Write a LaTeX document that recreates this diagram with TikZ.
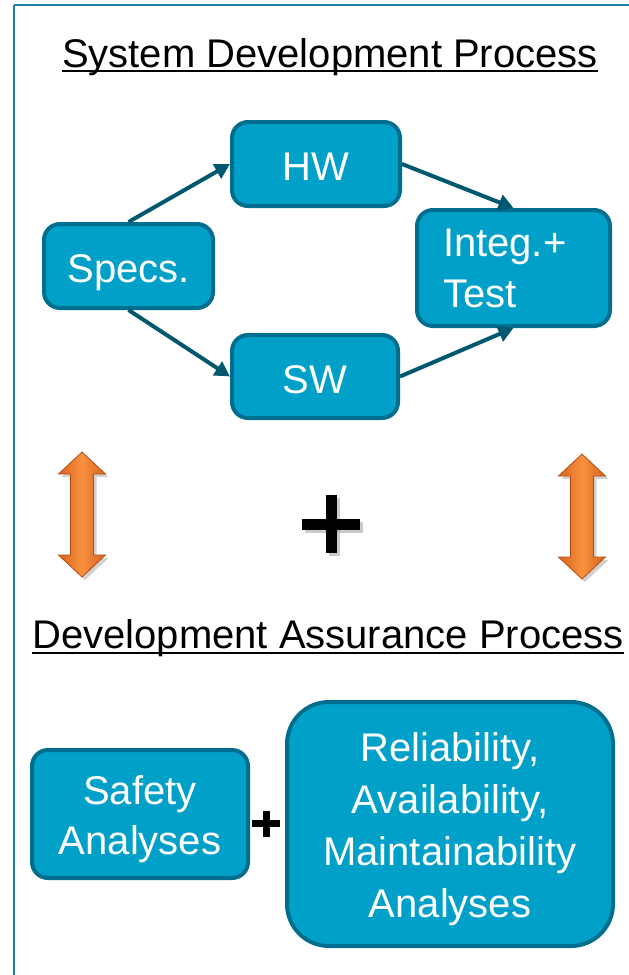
\documentclass[tikz,border=0pt]{standalone}
\usepackage{fontspec}
\setmainfont{Liberation Sans}
\usetikzlibrary{arrows.meta}
\definecolor{boxfill}{HTML}{00A0C8}
\definecolor{boxline}{HTML}{006E8E}
\definecolor{arrowc}{HTML}{00586F}
\definecolor{framec}{HTML}{1E80A8}
\definecolor{orangeL}{HTML}{F8913F}
\definecolor{orangeD}{HTML}{D8631E}
\definecolor{orangeE}{HTML}{B04E16}
\tikzset{
  box/.style={draw=boxline, fill=boxfill, line width=4pt, rounded corners=16pt,
    text=white, font=\fontsize{40}{50}\selectfont, align=center, inner sep=0pt},
  oneline/.style={text height=33pt, text depth=0pt},
  titletext/.style={font=\fontsize{40}{48}\selectfont, inner sep=0pt, anchor=base},
  uline/.style={line width=2pt, black},
  conn/.style={draw=arrowc, line width=4pt, -{Triangle[length=15pt,width=16pt]}},
  plusbar/.style={line width=#1, black},
  dblarrow/.pic={
    \fill[black, opacity=0.18] (3,-60) -- (26.5,-38) -- (14.5,-38) -- (14.5,43) -- (26.5,43) -- (3,65) -- (-20.5,43) -- (-8.5,43) -- (-8.5,-38) -- (-20.5,-38) -- cycle;
    \shade[left color=orangeD, right color=orangeD, middle color=orangeL, draw=orangeE, line width=0.8pt]
      (0,-63) -- (23.5,-41) -- (11.5,-41) -- (11.5,40) -- (23.5,40) -- (0,62) -- (-23.5,40) -- (-11.5,40) -- (-11.5,-41) -- (-23.5,-41) -- cycle;
  }
}
\begin{document}
\begin{tikzpicture}[x=1pt,y=-1pt]
\useasboundingbox (0,0) rectangle (629,975);
% frame
\draw[framec, line width=2pt] (14,5) -- (640,5);
\draw[framec, line width=2pt] (14,5) -- (14,990);

% titles
\node[titletext] (t1) at (330,67) {System Development Process};
\coordinate (u1) at (0,71);
\draw[uline] (t1.base west |- u1) -- (t1.base east |- u1);
\node[titletext] (t2) at (328,648) {Development Assurance Process};
\coordinate (u2) at (0,653);
\draw[uline] (t2.base west |- u2) -- (t2.base east |- u2);

% development process boxes
\node[box, oneline, minimum width=168pt, minimum height=84pt] (hw) at (316,164) {HW};
\node[box, oneline, minimum width=169pt, minimum height=84pt] (specs) at (128.5,266) {Specs.};
\node[box, oneline, minimum width=166pt, minimum height=83pt] (sw) at (315,376.5) {SW};
\node[box, minimum height=116pt, text width=141pt, inner xsep=26pt, align=left, font=\fontsize{40}{51}\selectfont] (integ) at (513.5,268) {Integ.+\\Test};

\draw[conn] (specs.north) -- (hw.west);
\draw[conn] (specs.south) -- (sw.west);
\draw[conn] (hw.east) -- (integ.north);
\draw[conn] (sw.east) -- (integ.south);

% orange double arrows
\pic at (82,515) {dblarrow};
\pic at (582,517) {dblarrow};

% big plus
\begin{scope}[shift={(3,3)}]
  \draw[plusbar=11pt, black!35, opacity=0.6] (302,524.5) -- (360,524.5);
  \draw[plusbar=11pt, black!35, opacity=0.6] (331,495) -- (331,553);
\end{scope}
\draw[plusbar=11pt] (302,524.5) -- (360,524.5);
\draw[plusbar=11pt] (331,495) -- (331,553);

% assurance boxes
\node[box, minimum width=216pt, minimum height=128pt] (safety) at (140,814) {\rule{0pt}{40pt}Safety\\Analyses};
\node[box, rounded corners=42pt, minimum width=326pt, minimum height=244pt, font=\fontsize{40}{52}\selectfont] (rel) at (450,824) {\rule{0pt}{40pt}Reliability,\\Availability,\\Maintainability\\Analyses};

% small plus
\draw[plusbar=7pt] (252,823.5) -- (280,823.5);
\draw[plusbar=7pt] (266,811) -- (266,837);
\end{tikzpicture}
\end{document}
